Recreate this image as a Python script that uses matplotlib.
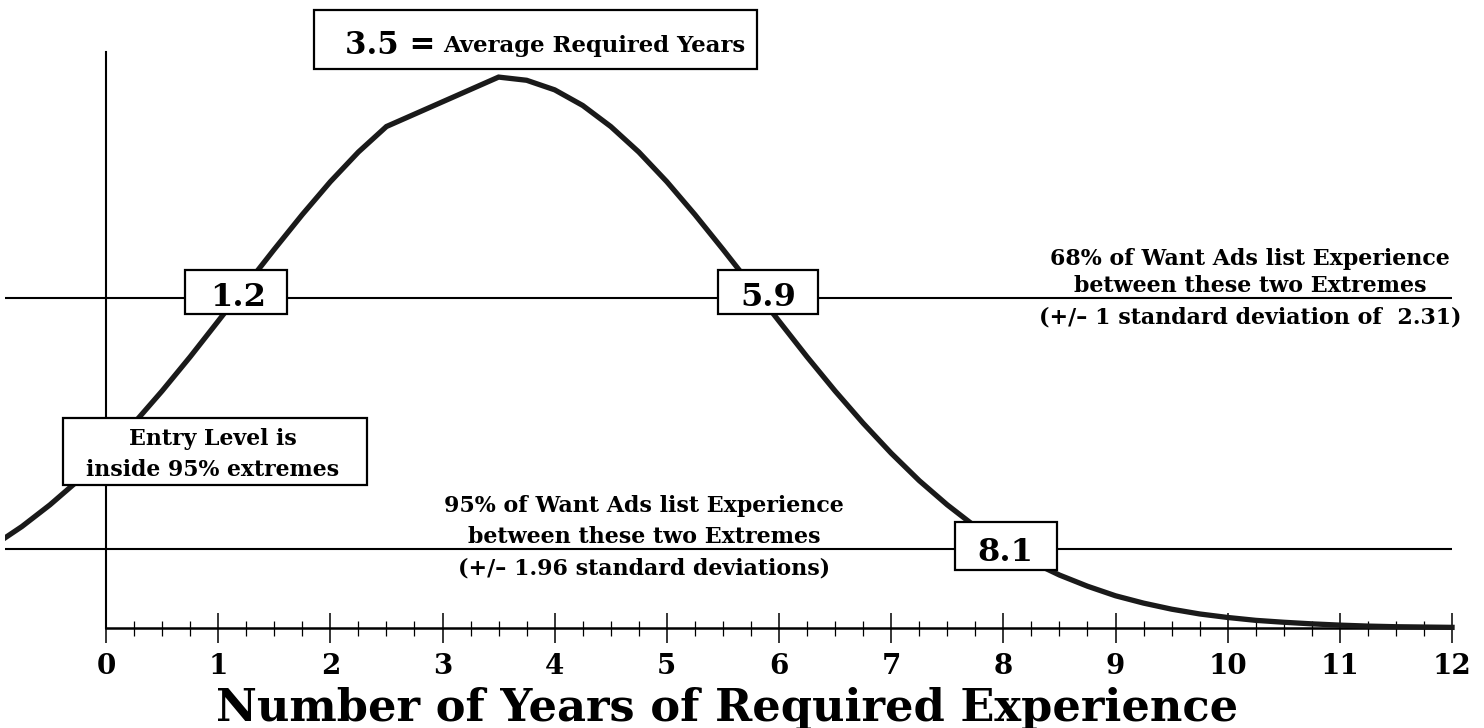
import matplotlib
matplotlib.use("Agg")
import matplotlib.pyplot as plt
from matplotlib.patches import Rectangle
from matplotlib.ticker import FixedLocator

# ---------------- data ----------------
years_left = [-1.0, -0.75, -0.5, -0.25, 0.0, 0.25, 0.5, 0.75, 1.0, 1.25,
              1.5, 1.75, 2.0, 2.25, 2.5]
share_left = [2.59, 3.18, 3.86, 4.62, 5.48, 6.42, 7.43, 8.50, 9.62, 10.75,
              11.87, 12.96, 13.99, 14.92, 15.72]
years_right = [3.5, 3.75, 4.0, 4.25, 4.5, 4.75, 5.0, 5.25, 5.5, 5.75,
               6.0, 6.25, 6.5, 6.75, 7.0, 7.25, 7.5, 7.75, 8.0, 8.25,
               8.5, 8.75, 9.0, 9.25, 9.5, 9.75, 10.0, 10.25, 10.5, 10.75,
               11.0, 11.25, 11.5, 11.75, 12.0]
share_right = [17.27, 17.17, 16.87, 16.38, 15.72, 14.92, 13.99, 12.96, 11.87, 10.75,
               9.62, 8.50, 7.43, 6.42, 5.48, 4.62, 3.86, 3.18, 2.59, 2.08,
               1.66, 1.31, 1.01, 0.78, 0.59, 0.44, 0.33, 0.24, 0.18, 0.13,
               0.09, 0.06, 0.04, 0.03, 0.02]
years = years_left + years_right
share = share_left + share_right

tick_years = list(range(0, 13))
tick_labels = [str(t) for t in tick_years]
minor_ticks = [i / 4 for i in range(0, 49) if i % 4]
average_years = 3.5
band68_low, band68_high = 1.2, 5.9
band95_high = 8.1
level68 = 10.34
level95 = 2.48

xlabel_text = "Number of Years of Required Experience"
avg_num = "3.5 ="
avg_text = "Average Required Years"
entry_lines = ["Entry Level is", "inside 95% extremes"]
lines68 = ["68% of Want Ads list Experience", "between these two Extremes",
           "(+/\u2013 1 standard deviation of  2.31)"]
lines95 = ["95% of Want Ads list Experience", "between these two Extremes",
           "(+/\u2013 1.96 standard deviations)"]

# ---------------- layout ----------------
W, H = 1484, 728
X0, XS = 106.0, 112.17      # pixel of year 0, pixels per year
Y0, YS = 628.0, 31.9        # pixel of baseline, pixels per unit
LEFT_PX = 5

def dx(px):
    return (px - X0) / XS

def dy(py):
    return (Y0 - py) / YS

fig = plt.figure(figsize=(W / 100, H / 100), dpi=100)
ax = fig.add_axes([LEFT_PX / W, 0, 1 - LEFT_PX / W, 1])
ax.set_xlim(dx(LEFT_PX), dx(W))
ax.set_ylim(dy(H), dy(0))
ax.patch.set_alpha(0)

FONT = "DejaVu Serif"
renderer = fig.canvas.get_renderer()

def fit_size(s, width_px, base=16):
    t = fig.text(0, 0, s, fontsize=base, family=FONT, fontweight="bold")
    w = t.get_window_extent(renderer).width
    t.remove()
    return base * width_px / w

# spines as axes
for side in ("top", "right"):
    ax.spines[side].set_visible(False)
ax.spines["bottom"].set_position(("data", 0))
ax.spines["left"].set_position(("data", 0))
ax.spines["bottom"].set_bounds(0, 12)
ax.spines["left"].set_bounds(0, dy(52))
ax.spines["bottom"].set_linewidth(1.8)
ax.spines["left"].set_linewidth(1.5)

ax.xaxis.set_major_locator(FixedLocator(tick_years))
ax.xaxis.set_minor_locator(FixedLocator(minor_ticks))
ax.set_xticklabels(tick_labels)
ax.tick_params(axis="x", which="major", direction="inout", length=21.6, width=1.1,
               pad=7, labelsize=20)
ax.tick_params(axis="x", which="minor", direction="inout", length=10.8, width=0.9)
for lab in ax.get_xticklabels():
    lab.set_family(FONT)
    lab.set_fontweight("bold")
ax.set_yticks([])

# horizontal reference lines
ax.hlines([level68, level95], dx(0), 12, color="black", lw=1.5, zorder=2)

# curve
ax.plot(years, share, color="#1a1a1a", lw=3.8, solid_joinstyle="miter", zorder=3)

# x label
xl_size = fit_size(xlabel_text, 1025, 24)
ax.set_xlabel(xlabel_text, family=FONT, fontweight="bold", fontsize=xl_size)
ax.xaxis.set_label_coords((727 - LEFT_PX) / (W - LEFT_PX), 1 - 708 / H)
ax.xaxis.label.set_va("center")

def box(x1, y1, x2, y2):
    ax.add_patch(Rectangle((dx(x1), dy(y2)), dx(x2) - dx(x1), dy(y1) - dy(y2),
                           facecolor="white", edgecolor="black", lw=1.6, zorder=4))

def label(xp, yp, s, size, ha="center"):
    ax.text(dx(xp), dy(yp), s, fontsize=size, family=FONT, fontweight="bold",
            ha=ha, va="baseline", zorder=5)

# average box
box(314, 10, 757, 69)
num_size = fit_size(avg_num, 90, 20)
avg_size = fit_size(avg_text, 302, 14)
label(345, 54, avg_num, num_size, ha="left")
label(443, 52, avg_text, avg_size, ha="left")

# value boxes
val_size = fit_size("1.2", 56, 20)
box(185, 270, 287, 314)
label(238, 306, f"{band68_low}", val_size)
box(718, 270, 818, 314)
label(768, 306, f"{band68_high}", val_size)
box(955, 522, 1057, 570)
label(1005, 561, f"{band95_high}", val_size)

# entry level box
box(63, 418, 367, 485)
entry_size = fit_size(entry_lines[1], 254, 14)
label(213, 445, entry_lines[0], entry_size)
label(213, 476, entry_lines[1], entry_size)

# explanatory texts
txt_size = fit_size(lines68[0], 400, 14)
for s, yp in zip(lines68, [265, 292, 323]):
    label(1250, yp, s, txt_size)
for s, yp in zip(lines95, [512, 543, 575]):
    label(644, yp, s, txt_size)

fig.savefig("out.png", dpi=100, facecolor="white")
